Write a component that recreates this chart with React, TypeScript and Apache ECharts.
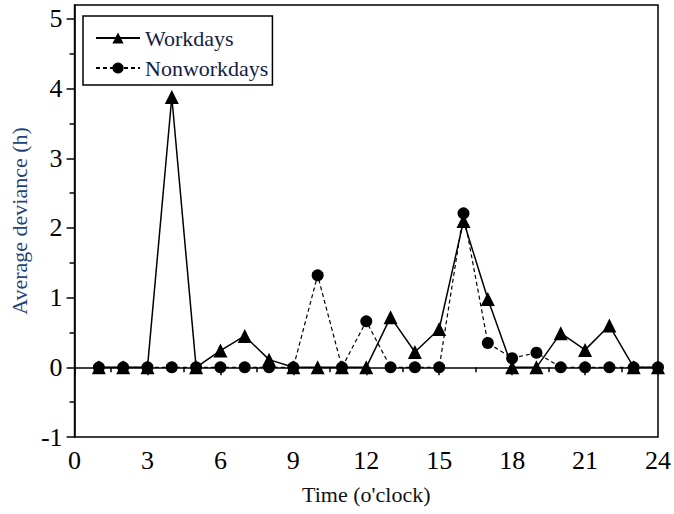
import React, { useEffect, useRef } from "react";
import * as echarts from "echarts";

const hours = [1, 2, 3, 4, 5, 6, 7, 8, 9, 10, 11, 12, 13, 14, 15, 16, 17, 18, 19, 20, 21, 22, 23, 24];
const workdays = [0, 0, 0, 3.88, 0, 0.24, 0.45, 0.11, 0, 0, 0, 0, 0.72, 0.22, 0.55, 2.1, 0.98, 0, 0, 0.49, 0.25, 0.6, 0, 0];
const nonworkdays = [0, 0, 0, 0, 0, 0, 0, 0, 0, 1.32, 0, 0.66, 0, 0, 0, 2.21, 0.35, 0.13, 0.21, 0, 0, 0, 0, 0];
const yMajorTicks = [-1, 0, 1, 2, 3, 4, 5];
const yMinorTicks = [-0.5, 0.5, 1.5, 2.5, 3.5, 4.5];
const seriesNames = ["Workdays", "Nonworkdays"];

const FONT = "Liberation Serif";

export default function App() {
  const ref = useRef<HTMLDivElement>(null);
  useEffect(() => {
    if (!ref.current) return;
    const chart = echarts.init(ref.current, null, { renderer: "svg" });
    const option: any = {
      animation: false,
      textStyle: { fontFamily: FONT },
      grid: {
        left: 71,
        right: 14,
        top: 5,
        bottom: 77,
        show: true,
        borderColor: "#000",
        borderWidth: 1.5,
        backgroundColor: "transparent",
      },
      legend: {
        orient: "vertical",
        left: 83,
        top: 16,
        itemWidth: 44,
        itemHeight: 14,
        itemGap: 8,
        padding: [11, 4, 6, 12],
        borderColor: "#000",
        borderWidth: 1.5,
        textStyle: { fontFamily: FONT, fontSize: 22, color: "#141c45" },
        data: seriesNames,
      },
      xAxis: {
        type: "value",
        min: 0,
        max: 24,
        interval: 3,
        name: "Time (o'clock)",
        nameLocation: "middle",
        nameGap: 46,
        nameTextStyle: { fontFamily: FONT, fontSize: 22, color: "#111" },
        axisLine: { lineStyle: { color: "#000", width: 1.5 } },
        axisTick: { show: true, length: 8, lineStyle: { color: "#000", width: 1.5 } },
        minorTick: { show: true, splitNumber: 2, length: 5, lineStyle: { color: "#000", width: 1.5 } },
        axisLabel: { fontFamily: FONT, fontSize: 26, color: "#000", margin: 10 },
        splitLine: { show: false },
      },
      yAxis: [
        {
          type: "value",
          min: -1,
          max: 5.2,
          name: "Average deviance (h)",
          nameLocation: "middle",
          nameGap: 44,
          nameTextStyle: { fontFamily: FONT, fontSize: 22, color: "#24427a" },
          axisLine: { show: true, lineStyle: { color: "#000", width: 1.5 } },
          axisTick: { show: true, length: 8, customValues: yMajorTicks, lineStyle: { color: "#000", width: 1.5 } },
          axisLabel: { fontFamily: FONT, fontSize: 26, color: "#000", margin: 12, customValues: yMajorTicks },
          splitLine: { show: false },
        },
        {
          type: "value",
          min: -1,
          max: 5.2,
          position: "left",
          axisLine: { show: false },
          axisTick: { show: true, length: 5, customValues: yMinorTicks, lineStyle: { color: "#000", width: 1.5 } },
          axisLabel: { show: false },
          splitLine: { show: false },
        },
      ],
      series: [
        {
          name: seriesNames[1],
          type: "line",
          data: nonworkdays.map((v, i) => [hours[i], v]),
          symbol: "circle",
          symbolSize: 12,
          itemStyle: { color: "#000" },
          lineStyle: { color: "#000", width: 1.2, type: [4, 3] },
          z: 2,
        },
        {
          name: seriesNames[0],
          type: "line",
          data: workdays.map((v, i) => [hours[i], v]),
          symbol: "triangle",
          symbolSize: 14,
          itemStyle: { color: "#000" },
          lineStyle: { color: "#000", width: 1.5, type: "solid" },
          z: 3,
        },
      ],
    };
    chart.setOption(option);
    return () => chart.dispose();
  }, []);
  return (
    <div
      ref={ref}
      style={{ position: "absolute", left: 0, top: 0, width: 674, height: 514, background: "#fff" }}
    />
  );
}
